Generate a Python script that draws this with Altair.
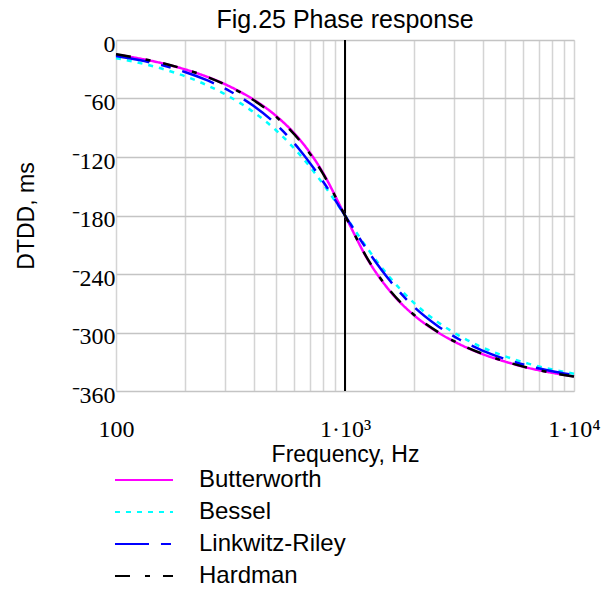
import altair as alt
import pandas as pd

# Frequency points (Hz), 10 per decade
freq_hz = [100, 126, 158, 200, 251, 316, 398, 501, 631, 794, 1000,
           1259, 1585, 1995, 2512, 3162, 3981, 5012, 6310, 7943, 10000]

# Phase response of each 4th-order crossover filter
butterworth = [-15.0, -18.9, -23.7, -30.1, -37.9, -48.0, -61.0, -78.0, -101.4, -134.5, -180.0,
               -225.5, -258.6, -282.0, -299.0, -312.0, -322.1, -329.9, -336.3, -341.1, -345.0]
bessel = [-18.6, -23.4, -29.3, -37.1, -46.6, -58.7, -73.9, -92.8, -116.9, -146.2, -180.0,
          -214.5, -244.7, -269.4, -288.4, -303.4, -315.3, -324.5, -331.9, -337.7, -342.3]
linkwitz_riley = [-16.3, -20.5, -25.8, -32.8, -41.5, -52.8, -67.5, -86.6, -112.0, -143.6, -180.0,
                  -216.4, -248.0, -273.4, -292.5, -307.2, -318.5, -327.2, -334.2, -339.5, -343.7]
hardman = [-14.6, -18.6, -23.5, -30.0, -38.0, -48.3, -61.6, -78.9, -102.5, -135.5, -180.0,
           -225.0, -258.0, -281.5, -298.6, -311.6, -321.8, -329.7, -336.2, -341.2, -345.2]

series_names = ["Butterworth", "Bessel", "Linkwitz-Riley", "Hardman"]
series_colors = ["#ff00ff", "#00ffff", "#0000ff", "#000000"]
series_dashes = [[1, 0], [5, 6], [34, 12, 10, 12], [15, 15, 5, 13]]

x_grid = [100, 200, 300, 400, 500, 600, 700, 800, 900,
          1000, 2000, 3000, 4000, 5000, 6000, 7000, 8000, 9000, 10000]
y_ticks = [-360, -300, -240, -180, -120, -60, 0]

rows = []
for name, vals in zip(series_names, [butterworth, bessel, linkwitz_riley, hardman]):
    for f, v in zip(freq_hz, vals):
        rows.append({"freq": f, "dtdd": v, "filter": name})
df = pd.DataFrame(rows)

sans = "Liberation Sans"
serif = "Liberation Serif"

legend = alt.Legend(
    title=None, orient="none", legendX=16, legendY=428,
    symbolType="M-3,0H3", symbolSize=374, symbolStrokeWidth=2,
    labelFont=sans, labelFontSize=24, labelColor="black",
    labelOffset=43, rowPadding=8,
)

x_enc = alt.X(
    "freq:Q",
    scale=alt.Scale(type="log", domain=[100, 10000], nice=False),
    axis=alt.Axis(
        values=x_grid,
        labelExpr="datum.value == 100 ? '100' : datum.value == 1000 ? '1·10³' : datum.value == 10000 ? '1·10⁴' : ''",
        ticks=False, domain=False,
        gridColor="#d4d4d4", gridWidth=1.5,
        labelFont=serif, labelFontSize=24, labelColor="black",
        labelPadding=26, labelFlush=False, labelOverlap=False,
        title="Frequency, Hz", titleFont=sans, titleFontSize=23,
        titleFontWeight="normal", titleColor="black",
        titleBaseline="alphabetic", titleY=70,
    ),
)

y_enc = alt.Y(
    "dtdd:Q",
    scale=alt.Scale(domain=[-360, 0], nice=False),
    axis=alt.Axis(
        values=y_ticks,
        labelExpr="datum.value < 0 ? '⁻' + (-datum.value) : '0'",
        ticks=False, domain=False,
        gridColor="#c4c4c4", gridWidth=1.5,
        labelFont=serif, labelFontSize=24, labelColor="black",
        labelPadding=1, labelOffset=4,
        title="DTDD, ms", titleFont=sans, titleFontSize=23,
        titleFontWeight="normal", titleColor="black",
        titleBaseline="alphabetic", titleX=-83, titleY=175.5,
    ),
)

curves = alt.Chart(df).mark_line(strokeWidth=2.5, interpolate="monotone").encode(
    x=x_enc,
    y=y_enc,
    color=alt.Color("filter:N", scale=alt.Scale(domain=series_names, range=series_colors), legend=legend),
    strokeDash=alt.StrokeDash("filter:N", scale=alt.Scale(domain=series_names, range=series_dashes), legend=legend),
)

# Heavy marker line at the crossover frequency
crossover = alt.Chart(pd.DataFrame({"freq": [1000]})).mark_rule(color="black", strokeWidth=2).encode(
    x=alt.X("freq:Q")
)

chart = alt.layer(crossover, curves).properties(
    width=458,
    height=351,
    autosize=alt.AutoSizeParams(type="none"),
    padding={"left": 116, "top": 40, "right": 36, "bottom": 199},
    title=alt.TitleParams(
        "Fig.25 Phase response", font=sans, fontSize=25, fontWeight="normal",
        color="black", anchor="middle", frame="group", baseline="alphabetic", offset=-21,
    ),
).configure_view(stroke="black", strokeWidth=2.5).configure(background="white")

chart.save("out.html", embed_options={"renderer": "svg", "actions": False})
